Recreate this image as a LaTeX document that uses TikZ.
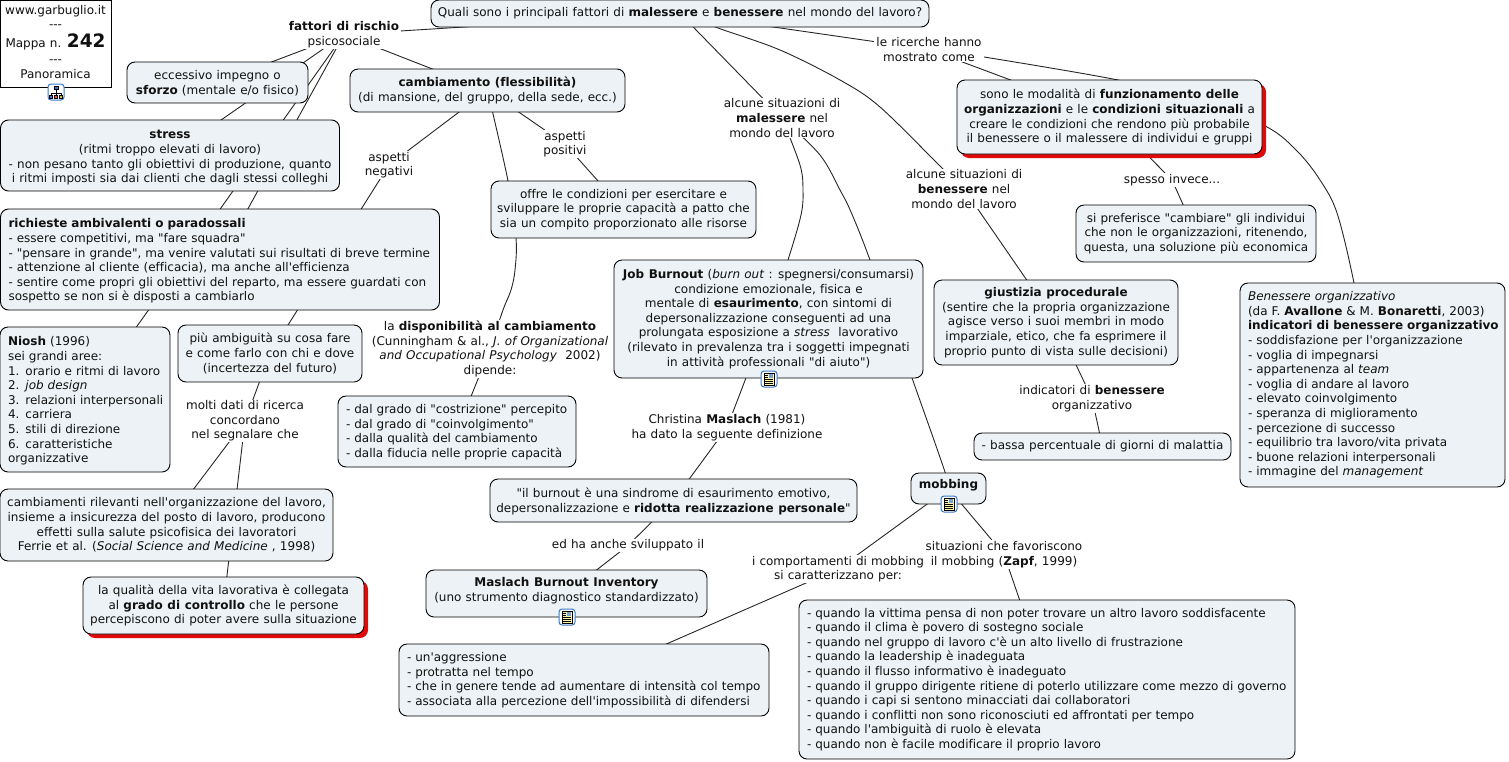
\documentclass[tikz,border=0pt]{standalone}
\usepackage{fontspec}
\setmainfont[WordSpace=1.1,Ligatures={TeXOff,CommonOff}]{DejaVu Sans}
\usetikzlibrary{shadows}
\pgfdeclarelayer{bg}
\pgfsetlayers{bg,main}
\definecolor{boxfill}{HTML}{ECF2F5}
\definecolor{shred}{HTML}{E00A0A}
\definecolor{txt}{HTML}{111111}
\definecolor{iconblue}{HTML}{3A78C8}
\definecolor{noteyellow}{HTML}{FFF3A8}
\newcommand{\dn}[1]{\rule{0pt}{\dimexpr 9.1pt+#1pt+#1pt\relax}}
\newcommand{\up}[1]{\rule[\dimexpr -2.7pt-#1pt-#1pt\relax]{0pt}{0pt}}
\tikzset{
  x=1pt,y=-1pt,
  every node/.style={font=\fontsize{12}{14.6}\selectfont,text=txt,inner sep=0pt},
  box/.style 2 args={draw=black,line width=0.9pt,fill=boxfill,rounded corners=8pt,minimum width=#1pt,minimum height=#2pt,align=center},
  lbox/.style 2 args={draw=black,line width=0.9pt,fill=boxfill,rounded corners=8pt,minimum width=#1pt,minimum height=#2pt,align=left,inner xsep=2pt,text width=#1pt-4pt,execute at begin node={\leftskip=6pt}},
  lab/.style={fill=white,align=center,inner xsep=2pt,inner ysep=1pt},
  hot/.style={drop shadow={shadow xshift=4pt,shadow yshift=-4pt,fill=shred,opacity=1}},
  conn/.style={draw=black!85,line width=0.9pt},
  curve/.style={conn,smooth,tension=0.55},
  iconframe/.style={draw=iconblue,line width=1pt,fill=white,rounded corners=3pt},
}
\newcommand{\noteicon}[2]{%
  \node[iconframe,minimum width=16pt,minimum height=16pt] (#1) at (#2) {};
  \begin{scope}[shift={(#2)}]
    \fill[noteyellow] (-5,-6) rectangle (5,6);
    \draw[black,line width=0.5pt] (-5,-6) rectangle (5,6);
    \fill[iconblue!70] (0,-5) rectangle (4,-1);
    \foreach \yy in {-4,-2,0,2,4}{\draw[black,line width=0.4pt] (-4,\yy) -- (\ifnum\yy<0 -1\else 4\fi,\yy);}
  \end{scope}}
\newcommand{\mapicon}[2]{%
  \node[iconframe,minimum width=16pt,minimum height=16pt] (#1) at (#2) {};
  \begin{scope}[shift={(#2)}]
    \draw[black,line width=0.5pt] (0,-3) -- (0,1) (-5,1) -- (5,1) (-5,1) -- (-5,3) (0,1) -- (0,3) (5,1) -- (5,3);
    \fill[iconblue,draw=black,line width=0.4pt] (-2,-6) rectangle (2,-3);
    \fill[iconblue,draw=black,line width=0.4pt] (-6.5,3) rectangle (-3.5,6);
    \fill[red!70,draw=black,line width=0.4pt] (-1.5,3) rectangle (1.5,6);
    \fill[yellow!80!black,draw=black,line width=0.4pt] (3.5,3) rectangle (6.5,6);
  \end{scope}}
\begin{document}
\begin{tikzpicture}
\useasboundingbox (0,0) rectangle (1509,761);
% boxes
\node[draw=black,line width=0.9pt,fill=white,minimum width=111pt,minimum height=87pt,align=center] (site) at (55.5,43.5)
 {www.garbuglio.it\\---\\[4pt]Mappa n. {\fontsize{18.5}{19}\selectfont\bfseries 242}\\[2pt]---\\Panoramica\up{0.5}};
\node[box={498}{27}] (root) at (680,13.5) {Quali sono i principali fattori di \textbf{malessere} e \textbf{benessere} nel mondo del lavoro?};
\node[lab] (fattori) at (344,34.5) {\textbf{fattori di rischio}\\psicosociale};
\node[box={181}{41}] (sforzo) at (217.5,82.5) {\dn{1}eccessivo impegno o\\\textbf{sforzo} (mentale e/o fisico)};
\node[box={275}{43}] (camb) at (487.5,90.5) {\textbf{cambiamento (flessibilità)}\\(di mansione, del gruppo, della sede, ecc.)};
\node[box={339}{71}] (stress) at (170,155.5) {\dn{2}\textbf{stress}\\(ritmi troppo elevati di lavoro)\\- non pesano tanto gli obiettivi di produzione, quanto\\i ritmi imposti sia dai clienti che dagli stessi colleghi};
\node[lbox={439}{101}] (rich) at (220,259.5) {\dn{1.5}\textbf{richieste ambivalenti o paradossali}\\- essere competitivi, ma "fare squadra"\\- "pensare in grande", ma venire valutati sui risultati di breve termine\\- attenzione al cliente (efficacia), ma anche all'efficienza\\- sentire come propri gli obiettivi del reparto, ma essere guardati con\\sospetto se non si è disposti a cambiarlo};
\node[lbox={170}{145}] (niosh) at (85,399.5) {\dn{1.5}\textbf{Niosh} (1996)\\sei grandi aree:\\1. orario e ritmi di lavoro\\2. \textit{job design}\\3. relazioni interpersonali\\4. carriera\\5. stili di direzione\\6. caratteristiche\\organizzative};
\node[box={184}{57}] (ambig) at (270,353.5) {più ambiguità su cosa fare\\e come farlo con chi e dove\\(incertezza del futuro)};
\node[lab] (molti) at (245,421) {molti dati di ricerca\\concordano\\nel segnalare che};
\node[box={333}{72}] (cambiam) at (166.5,525) {cambiamenti rilevanti nell'organizzazione del lavoro,\\insieme a insicurezza del posto di lavoro, producono\\effetti sulla salute psicofisica dei lavoratori\\Ferrie et al. (\textit{Social Science and Medicine} , 1998)};
\node[box={281}{57},hot] (qualita) at (223.5,605.5) {la qualità della vita lavorativa è collegata\\al \textbf{grado di controllo} che le persone\\percepiscono di poter avere sulla situazione};
\node[lab] (asneg) at (389,165) {aspetti\\negativi};
\node[lab] (aspos) at (565,144) {aspetti\\positivi};
\node[box={265}{57}] (offre) at (623.5,209.5) {offre le condizioni per esercitare e\\sviluppare le proprie capacità a patto che\\sia un compito proporzionato alle risorse};
\node[lab] (dispo) at (490,349) {la \textbf{disponibilità al cambiamento}\\(Cunningham \& al., \textit{J. of Organizational}\\\textit{and Occupational Psychology}\ \ 2002)\\dipende:};
\node[lbox={238}{71}] (grado) at (457,431.5) {\dn{0.5}- dal grado di "costrizione" percepito\\- dal grado di "coinvolgimento"\\- dalla qualità del cambiamento\\- dalla fiducia nelle proprie capacità};
\node[lab] (males) at (782,118) {alcune situazioni di\\\textbf{malessere} nel\\mondo del lavoro};
\node[lab] (benes) at (964,189) {alcune situazioni di\\\textbf{benessere} nel\\mondo del lavoro};
\node[box={309}{118}] (job) at (768.5,319) {\textbf{Job Burnout} (\textit{burn out} : spegnersi/consumarsi)\\condizione emozionale, fisica e\\mentale di \textbf{esaurimento}, con sintomi di\\depersonalizzazione conseguenti ad una\\prolungata esposizione a \textit{stress}\ \ lavorativo\\(rilevato in prevalenza tra i soggetti impegnati\\in attività professionali "di aiuto")};
\node[lab] (chris) at (727,427.5) {Christina \textbf{Maslach} (1981)\\ha dato la seguente definizione};
\node[box={367}{43}] (burn) at (673.5,500.5) {\dn{1}"il burnout è una sindrome di esaurimento emotivo,\\depersonalizzazione e \textbf{ridotta realizzazione personale}"};
\node[lab] (edha) at (628,545.5) {ed ha anche sviluppato il};
\node[box={281}{47}] (mbi) at (566.5,593.5) {\textbf{Maslach Burnout Inventory}\\(uno strumento diagnostico standardizzato)\up{2.5}};
\node[lab] (compo) at (838,569) {i comportamenti di mobbing\\si caratterizzano per:};
\node[lbox={370}{72}] (aggr) at (584,680) {- un'aggressione\\- protratta nel tempo\\- che in genere tende ad aumentare di intensità col tempo\\- associata alla percezione dell'impossibilità di difendersi};
\node[box={75}{31},text depth=9pt] (mob) at (948.5,488.5) {\textbf{mobbing}};
\node[lab] (situa) at (1004,554.5) {situazioni che favoriscono\\il mobbing (\textbf{Zapf}, 1999)};
\node[lbox={496}{159}] (quando) at (1047,679.5) {- quando la vittima pensa di non poter trovare un altro lavoro soddisfacente\\- quando il clima è povero di sostegno sociale\\- quando nel gruppo di lavoro c'è un alto livello di frustrazione\\- quando la leadership è inadeguata\\- quando il flusso informativo è inadeguato\\- quando il gruppo dirigente ritiene di poterlo utilizzare come mezzo di governo\\- quando i capi si sentono minacciati dai collaboratori\\- quando i conflitti non sono riconosciuti ed affrontati per tempo\\- quando l'ambiguità di ruolo è elevata\\- quando non è facile modificare il proprio lavoro};
\node[box={244}{85}] (giust) at (1056,322.5) {\textbf{giustizia procedurale}\\(sentire che la propria organizzazione\\agisce verso i suoi membri in modo\\imparziale, etico, che fa esprimere il\\proprio punto di vista sulle decisioni)};
\node[lab] (indic) at (1092,398.5) {indicatori di \textbf{benessere}\\organizzativo};
\node[box={257}{27}] (bassa) at (1102.5,446.5) {- bassa percentuale di giorni di malattia};
\node[lab] (ricer) at (929,49.5) {le ricerche hanno\\mostrato come\ };
\node[box={305}{74},hot] (funz) at (1109.5,117) {\dn{0.5}sono le modalità di \textbf{funzionamento delle}\\\textbf{organizzazioni} e le \textbf{condizioni situazionali} a\\creare le condizioni che rendono più probabile\\il benessere o il malessere di individui e gruppi};
\node[lab] (spesso) at (1172,180) {spesso invece...};
\node[box={240}{57}] (prefe) at (1196,233.5) {si preferisce "cambiare" gli individui\\che non le organizzazioni, ritenendo,\\questa, una soluzione più economica};
\node[lbox={265}{204}] (benorg) at (1372.5,385) {\textit{Benessere organizzativo}\\(da F. \textbf{Avallone} \& M. \textbf{Bonaretti}, 2003)\\\textbf{indicatori di benessere organizzativo}\\- soddisfazione per l'organizzazione\\- voglia di impegnarsi\\- appartenenza al \textit{team}\\- voglia di andare al lavoro\\- elevato coinvolgimento\\- speranza di miglioramento\\- percezione di successo\\- equilibrio tra lavoro/vita privata\\- buone relazioni interpersonali\\- immagine del \textit{management}};
% icons
\mapicon{icsite}{56,92}
\noteicon{icjob}{769,379}
\noteicon{icmbi}{567,617}
\noteicon{icmob}{949,504}
% connectors
\begin{pgfonlayer}{bg}
\draw[conn] (root.center) -- (fattori.center);
\draw[conn] (fattori.center) -- (sforzo.center);
\draw[conn] (fattori.center) -- (stress.center);
\draw[conn] (fattori.center) -- (rich.center);
\draw[conn] (fattori.center) -- (niosh.center);
\draw[conn] (fattori.center) -- (camb.center);
\draw[conn] (camb.center) -- (asneg.center);
\draw[conn] (asneg.center) -- (ambig.center);
\draw[conn] (camb.center) -- (aspos.center);
\draw[conn] (aspos.center) -- (offre.center);
\draw[curve] plot coordinates {(camb.center) (508,181) (516,238) (515,270) (511,290) (503,310) (dispo.center)};
\draw[conn] (dispo.center) -- (grado.center);
\draw[conn] (ambig.center) -- (molti.center);
\draw[conn] (molti.center) -- (cambiam.center);
\draw[conn] (molti.center) -- (qualita.center);
\draw[conn] (root.center) -- (males.center);
\draw[curve] plot coordinates {(males.center) (800,165) (803,190) (801,215) (788,260) (job.center)};
\draw[curve] plot coordinates {(males.center) (820,155) (840,190) (851,212) (870,260) (912,378) (945,472) (mob.center)};
\draw[curve] plot coordinates {(root.center) (718,28) (780,50) (840,80) (880,107) (942,168) (benes.center)};
\draw[conn] (benes.center) -- (giust.center);
\draw[conn] (giust.center) -- (indic.center);
\draw[conn] (indic.center) -- (bassa.center);
\draw[conn] (job.center) -- (chris.center);
\draw[conn] (chris.center) -- (burn.center);
\draw[conn] (burn.center) -- (edha.center);
\draw[conn] (edha.center) -- (mbi.center);
\draw[conn] (mob.center) -- (compo.center);
\draw[conn] (compo.center) -- (aggr.center);
\draw[conn] (mob.center) -- (situa.center);
\draw[conn] (situa.center) -- (quando.center);
\draw[conn] (root.center) -- (ricer.center);
\draw[conn] (ricer.center) -- (funz.center);
\draw[curve] plot coordinates {(ricer.center) (984,57) (1118,80) (1200,100) (1267,127) (1298,152) (1320,180) (1337,213) (1354,283) (benorg.center)};
\draw[conn] (funz.center) -- (spesso.center);
\draw[conn] (spesso.center) -- (prefe.center);
\end{pgfonlayer}
\end{tikzpicture}
\end{document}
